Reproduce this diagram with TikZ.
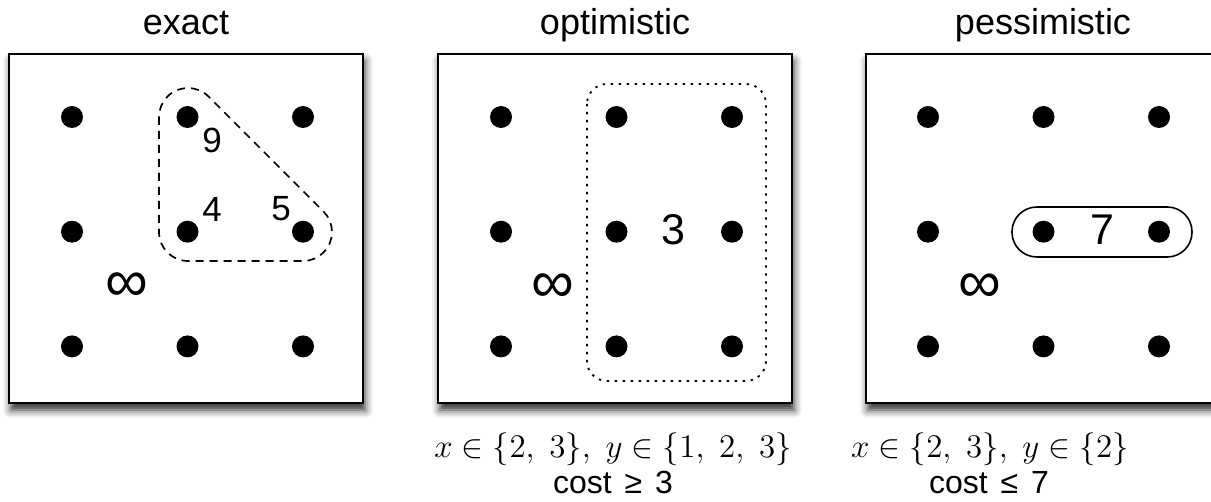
\RequirePackage{fix-cm}
\documentclass[tikz,border=0pt]{standalone}
\usepackage{fontspec}
\setmainfont{Liberation Sans}
\usetikzlibrary{shadows.blur}

\tikzset{
  panel/.style={draw, line width=1pt, fill=white,
    blur shadow={shadow xshift=1pt, shadow yshift=-3.5pt, shadow blur radius=4pt, shadow opacity=85}},
  dot/.style={circle, fill, inner sep=0pt, minimum size=11pt},
  title/.style={anchor=base, font=\fontsize{18}{20}\selectfont},
  small/.style={font=\fontsize{17.5}{20}\selectfont},
  big/.style={font=\fontsize{21.5}{24}\selectfont},
  inf/.style={font=\fontsize{30}{32}\selectfont},
  cond/.style={anchor=base, font=\fontsize{16.5}{20}\selectfont},
  cost/.style={anchor=base, font=\fontsize{16}{18}\selectfont},
}

\begin{document}
\begin{tikzpicture}[x=0.5pt,y=-0.5pt]
\useasboundingbox (0,0) rectangle (1211,502);
% frames
\path[panel] (9,54) rectangle (363,403);
\path[panel] (438,54) rectangle (792,403);
\path[panel] (866,54) rectangle (1220,403);
% 3x3 grids
\foreach \p/\x in {e/72,o/501,p/928}
  \foreach \i in {0,1,2}
    \foreach \j in {0,1,2}
      \node[dot] (\p\i\j) at (\x+115.5*\i,117+114.7*\j) {};
% exact
\node[title] (t-exact) at (186,35) {exact};
\draw[dash pattern=on 4pt off 3pt, line width=0.85pt]
  (159,117) -- (159,232) arc[start angle=180, end angle=90, radius=29]
  -- (303,261) arc[start angle=90, end angle=-45, radius=29]
  -- (208.5,96.5) arc[start angle=-45, end angle=-180, radius=29];
\node[small] (v9) at (212,140) {9};
\node[small] (v4) at (212,209) {4};
\node[small] (v5) at (281,209) {5};
\node[inf] (i-exact) at (127,287) {∞};
% optimistic
\node[title] (t-opt) at (615,35) {optimistic};
\draw[dash pattern=on 1.2pt off 2.8pt, line width=0.9pt, rounded corners=10pt]
  (587,84) rectangle (766,381);
\node[big] (v3) at (673,230) {3};
\node[inf] (i-opt) at (553,288) {∞};
\node[cond] (c-opt) at (613,458) {$x\in\{2,\ 3\},\ y\in\{1,\ 2,\ 3\}$};
\node[cost] (k-opt) at (613,494) {cost\hspace{2pt} ≥\hspace{2pt} 3};
% pessimistic
\node[title] (t-pes) at (1043,35) {pessimistic};
\draw[line width=0.8pt, rounded corners=12.4pt] (1012,207) rectangle (1192,257);
\node[big] (v7) at (1102,230) {7};
\node[inf] (i-pes) at (980,288) {∞};
\node[cond] (c-pes) at (990,458) {$x\in\{2,\ 3\},\ y\in\{2\}$};
\node[cost] (k-pes) at (989,494) {cost\hspace{2pt} ≤\hspace{2pt} 7};
\end{tikzpicture}
\end{document}
